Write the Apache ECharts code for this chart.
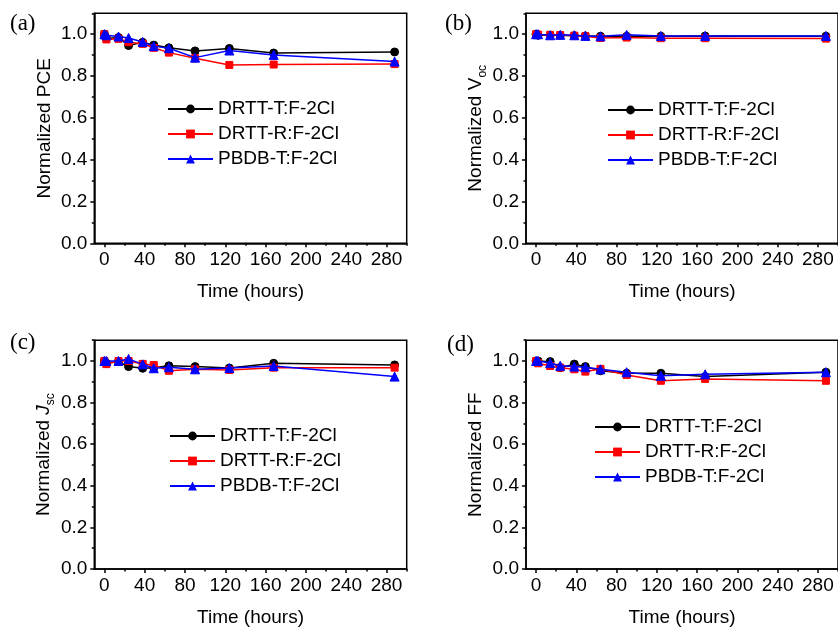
<!DOCTYPE html>
<html><head><meta charset="utf-8">
<script src="https://cdn.jsdelivr.net/npm/echarts@6/dist/echarts.min.js"></script>
<style>html,body{margin:0;padding:0;background:#fff}#c{width:838px;height:628px}</style>
</head><body><div id="c"></div>
<script>
// ---- data ----
const hours = [0, 2, 14, 24, 38, 49, 64, 90, 124, 168, 288];
const seriesNames = ['DRTT-T:F-2Cl', 'DRTT-R:F-2Cl', 'PBDB-T:F-2Cl'];

const pceT = [1.0, 0.98, 0.984, 0.946, 0.961, 0.948, 0.935, 0.92, 0.932, 0.91, 0.915];
const pceR = [1.0, 0.975, 0.978, 0.962, 0.954, 0.935, 0.912, 0.885, 0.853, 0.855, 0.857];
const pceB = [1.0, 0.995, 0.989, 0.982, 0.963, 0.943, 0.933, 0.888, 0.922, 0.901, 0.869];

const vocT = [1.0, 0.995, 0.995, 0.995, 0.993, 0.992, 0.99, 0.99, 0.99, 0.991, 0.99];
const vocR = [1.0, 0.998, 0.997, 0.996, 0.993, 0.99, 0.982, 0.984, 0.981, 0.981, 0.979];
const vocB = [1.0, 1.0, 0.995, 0.997, 0.995, 0.992, 0.99, 0.997, 0.992, 0.992, 0.992];

const jscT = [1.0, 0.989, 0.997, 0.973, 0.965, 0.968, 0.977, 0.973, 0.966, 0.989, 0.981];
const jscR = [1.0, 0.985, 1.0, 1.0, 0.986, 0.981, 0.953, 0.96, 0.957, 0.968, 0.968];
const jscB = [1.0, 1.0, 1.0, 1.01, 0.984, 0.965, 0.97, 0.96, 0.966, 0.976, 0.925];

const ffT = [1.0, 1.0, 0.997, 0.968, 0.985, 0.973, 0.953, 0.941, 0.941, 0.925, 0.946];
const ffR = [1.0, 0.989, 0.976, 0.968, 0.96, 0.949, 0.962, 0.933, 0.905, 0.914, 0.905];
const ffB = [1.0, 1.0, 0.99, 0.977, 0.973, 0.97, 0.96, 0.946, 0.929, 0.936, 0.946];

const xLabels = [0, 40, 80, 120, 160, 200, 240, 280];
const xMinorTicks = [20, 60, 100, 140, 180, 220, 260, 300];
const yLabels = [0, 0.2, 0.4, 0.6, 0.8, 1.0];
const yMinorTicks = [0.1, 0.3, 0.5, 0.7, 0.9, 1.1];
const panelLetters = ['(a)', '(b)', '(c)', '(d)'];
const yTitles = ['{n|Normalized PCE}', '{n|Normalized V}{s|oc}', '{n|Normalized }{i|J}{s|sc}', '{n|Normalized FF}'];
const xTitle = 'Time (hours)';

// ---- layout / style ----
const SANS = '"Liberation Sans", Arial, sans-serif';
const SERIF = '"Liberation Serif", "Times New Roman", serif';
const FS = 19;
const colors = ['#000000', '#ff0000', '#0000ff'];
const symbols = ['circle', 'rect', 'triangle'];
const symSizes = [8, 7, 9];
const panelData = [[pceT, pceR, pceB], [vocT, vocR, vocB], [jscT, jscR, jscB], [ffT, ffR, ffB]];

const grids = [
  {left: 94.3, top: 13.3, width: 312.4, height: 230},
  {left: 526, top: 13.3, width: 312.4, height: 230},
  {left: 94.3, top: 340.2, width: 312.4, height: 229.2},
  {left: 526, top: 340.2, width: 312.4, height: 229.2}
];
const legendPos = [
  {left: 167, top: 99},
  {left: 607, top: 100},
  {left: 169, top: 426},
  {left: 594, top: 417}
];
const letterPos = [[10, 12], [445, 12], [10, 331], [447, 333]];

const blackLine = {color: '#000', width: 1.5};
const xAxes = [], yAxes = [], series = [], legends = [], graphics = [];

grids.forEach((g, i) => {
  g.show = true; g.borderColor = '#000'; g.borderWidth = 1.5; g.backgroundColor = 'transparent';
  xAxes.push({
    type: 'value', gridIndex: i, min: -10, max: 300, position: 'bottom',
    axisLine: {show: true, onZero: false, lineStyle: blackLine},
    axisTick: {show: true, inside: false, length: 4, customValues: xLabels, lineStyle: blackLine},
    axisLabel: {show: true, customValues: xLabels, color: '#000', fontFamily: SANS, fontSize: FS, margin: 7},
    splitLine: {show: false},
    name: xTitle, nameLocation: 'middle', nameGap: 39,
    nameTextStyle: {color: '#000', fontFamily: SANS, fontSize: FS}
  });
  xAxes.push({
    type: 'value', gridIndex: i, min: -10, max: 300, position: 'bottom',
    axisLine: {show: false, onZero: false},
    axisTick: {show: true, inside: false, length: 2.5, customValues: xMinorTicks, lineStyle: blackLine},
    axisLabel: {show: false}, splitLine: {show: false}
  });
  yAxes.push({
    type: 'value', gridIndex: i, min: 0, max: 1.1, position: 'left',
    axisLine: {show: true, onZero: false, lineStyle: blackLine},
    axisTick: {show: true, inside: false, length: 4, customValues: yLabels, lineStyle: blackLine},
    axisLabel: {show: true, customValues: yLabels, formatter: v => v.toFixed(1), color: '#000', fontFamily: SANS, fontSize: FS, margin: 7},
    splitLine: {show: false},
    name: yTitles[i], nameLocation: 'middle', nameGap: 37,
    nameTextStyle: {
      color: '#000', fontFamily: SANS, fontSize: FS,
      rich: {
        n: {fontFamily: SANS, fontSize: FS, color: '#000', lineHeight: 26},
        i: {fontFamily: SANS, fontSize: FS, color: '#000', fontStyle: 'italic', lineHeight: 26},
        s: {fontFamily: SANS, fontSize: 12, color: '#000', lineHeight: 12, verticalAlign: 'bottom'}
      }
    }
  });
  yAxes.push({
    type: 'value', gridIndex: i, min: 0, max: 1.1, position: 'left',
    axisLine: {show: false, onZero: false},
    axisTick: {show: true, inside: false, length: 2.5, customValues: yMinorTicks, lineStyle: blackLine},
    axisLabel: {show: false}, splitLine: {show: false}
  });
  panelData[i].forEach((arr, k) => {
    series.push({
      type: 'line', name: seriesNames[k], xAxisIndex: 2 * i, yAxisIndex: 2 * i,
      data: hours.map((h, j) => [h, arr[j]]),
      symbol: symbols[k], symbolSize: symSizes[k], showSymbol: true,
      lineStyle: {color: colors[k], width: 1.5},
      itemStyle: {color: colors[k], borderColor: colors[k]},
      z: 3 + k, animation: false
    });
  });
  legends.push({
    orient: 'vertical', left: legendPos[i].left, top: legendPos[i].top,
    itemWidth: 45, itemHeight: 11, itemGap: 5, padding: 0,
    data: seriesNames,
    lineStyle: {width: 2},
    textStyle: {color: '#000', fontFamily: SANS, fontSize: FS, lineHeight: 20},
    selectedMode: false
  });
  graphics.push({
    type: 'text', left: letterPos[i][0], top: letterPos[i][1],
    style: {text: panelLetters[i], fill: '#000', font: '23px ' + SERIF}
  });
});

const chart = echarts.init(document.getElementById('c'), null, {renderer: 'canvas'});
chart.setOption({
  animation: false,
  backgroundColor: '#fff',
  grid: grids, xAxis: xAxes, yAxis: yAxes, series: series,
  legend: legends, graphic: graphics
});
</script></body></html>
